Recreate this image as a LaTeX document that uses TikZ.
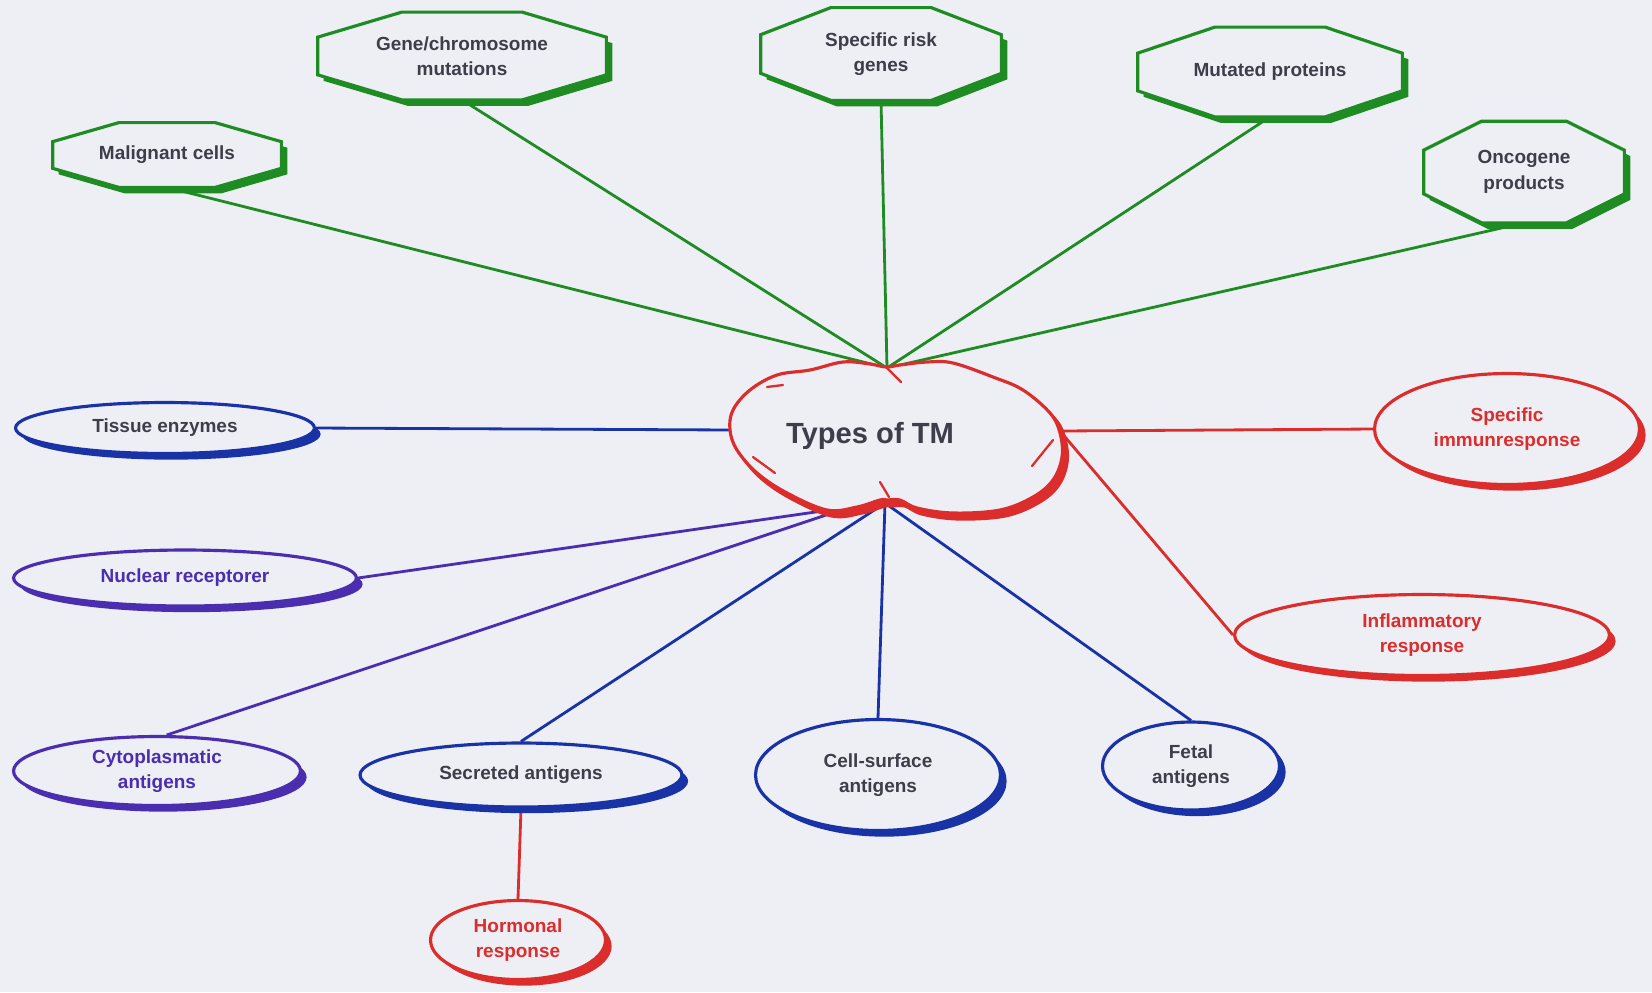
\documentclass[tikz,border=0pt]{standalone}
\usepackage{fontspec}
\setmainfont{Liberation Sans}
\usetikzlibrary{shapes.geometric,shadows,backgrounds,calc}

\definecolor{bgcol}{RGB}{237,239,245}
\definecolor{tmgreen}{RGB}{30,140,35}
\definecolor{tmblue}{RGB}{25,50,165}
\definecolor{tmpurple}{RGB}{75,45,175}
\definecolor{tmred}{RGB}{220,45,45}
\definecolor{txtgray}{RGB}{62,62,74}

\tikzset{
  lbl/.style={font=\bfseries\fontsize{10.8}{14.5}\selectfont, align=center, inner sep=0pt},
  octo/.style={lbl, rectangle, text=txtgray},
  oval/.style={lbl, ellipse, draw=#1, line width=1.8pt, fill=bgcol,
    drop shadow={shadow xshift=3.5pt, shadow yshift=-3.5pt, opacity=1, fill=#1}},
  link/.style={line width=1.6pt}
}

% octagon round a node: name, chamfer x, chamfer y (shadow first)
\newcommand{\octagon}[3]{%
  \fill[tmgreen] ($(#1.north west)+(#2+6,6)$) -- ($(#1.north east)+(-#2+6,6)$)
    -- ($(#1.north east)+(6,#3+6)$) -- ($(#1.south east)+(6,-#3+6)$)
    -- ($(#1.south east)+(-#2+6,6)$) -- ($(#1.south west)+(#2+6,6)$)
    -- ($(#1.south west)+(6,-#3+6)$) -- ($(#1.north west)+(6,#3+6)$) -- cycle;
  \draw[tmgreen, line width=1.8pt, fill=bgcol] ($(#1.north west)+(#2,0)$) -- ($(#1.north east)+(-#2,0)$)
    -- ($(#1.north east)+(0,#3)$) -- ($(#1.south east)+(0,-#3)$)
    -- ($(#1.south east)+(-#2,0)$) -- ($(#1.south west)+(#2,0)$)
    -- ($(#1.south west)+(0,-#3)$) -- ($(#1.north west)+(0,#3)$) -- cycle;
}

\begin{document}
\begin{tikzpicture}[x=0.02cm, y=-0.02cm]
\useasboundingbox (0,0) rectangle (1652,992);
\begin{scope}[on background layer]
\fill[bgcol] (0,0) rectangle (1652,992);
\end{scope}

% green octagons on top
\node[octo, minimum width=4.56cm, minimum height=1.28cm] (mal) at (167,155) {Malignant cells};
\node[octo, minimum width=5.76cm, minimum height=1.74cm] (gene) at (462,56) {Gene/chromosome\\mutations};
\node[octo, minimum width=4.8cm, minimum height=1.84cm] (risk) at (881,54) {Specific risk\\genes};
\node[octo, minimum width=5.28cm, minimum height=1.78cm] (mut) at (1270,72) {Mutated proteins};
\node[octo, minimum width=4cm, minimum height=2.02cm] (onc) at (1524,172) {Oncogene\\products};

% the cloud in the middle
\draw[tmred, fill=tmred, line width=1.8pt, shift={(5,6)}] plot[smooth cycle, tension=0.6] coordinates {
  (886,367) (900,365) (927,362) (953,363) (993,377) (1023,390) (1050,413) (1060,433) (1062,457)
  (1053,480) (1033,497) (1000,510) (953,513) (917,508) (900,500) (887,500) (880,500) (857,507)
  (827,510) (787,493) (757,473) (737,450) (730,430) (733,410) (750,390) (777,375) (810,370)
  (843,362) (870,364)};
\draw[tmred, fill=bgcol, line width=1.8pt] plot[smooth cycle, tension=0.6] coordinates {
  (886,367) (900,365) (927,362) (953,363) (993,377) (1023,390) (1050,413) (1060,433) (1062,457)
  (1053,480) (1033,497) (1000,510) (953,513) (917,508) (900,500) (887,500) (880,500) (857,507)
  (827,510) (787,493) (757,473) (737,450) (730,430) (733,410) (750,390) (777,375) (810,370)
  (843,362) (870,364)};
\draw[tmred, line width=1.3pt, line cap=round] (887,368) -- (901,382);
\draw[tmred, line width=1.3pt, line cap=round] (880,482) -- (889,497);
\draw[tmred, line width=1.3pt, line cap=round] (753,457) -- (775,473);
\draw[tmred, line width=1.3pt, line cap=round] (1053,440) -- (1032,466);
\draw[tmred, line width=1.3pt, line cap=round] (767,387) -- (783,385);
\node[lbl, ellipse, minimum width=5.4cm, minimum height=2.8cm, text=txtgray,
  font=\bfseries\fontsize{16.6}{20}\selectfont] (tm) at (870,436) {Types of TM};
\coordinate (tmN) at (887,368);
\coordinate (tmS) at (885,503);
\coordinate (tmSW) at (850,507);
\coordinate (tmW) at (733,430);
\coordinate (tmE) at (1060,431);

% ovals
\node[oval=tmblue, text=txtgray, minimum width=5.98cm, minimum height=1.02cm] (tis) at (165,428) {Tissue enzymes};
\node[oval=tmpurple, text=tmpurple, minimum width=6.86cm, minimum height=1.12cm] (nuc) at (185,578) {Nuclear receptorer};
\node[oval=tmpurple, text=tmpurple, minimum width=5.74cm, minimum height=1.38cm] (cyt) at (157,771) {Cytoplasmatic\\antigens};
\node[oval=tmblue, text=txtgray, minimum width=6.44cm, minimum height=1.28cm] (sec) at (521,775) {Secreted antigens};
\node[oval=tmred, text=tmred, minimum width=3.5cm, minimum height=1.58cm] (hor) at (518,940) {Hormonal\\response};
\node[oval=tmblue, text=txtgray, minimum width=4.9cm, minimum height=2.22cm] (cel) at (878,775) {Cell-surface\\antigens};
\node[oval=tmblue, text=txtgray, minimum width=3.54cm, minimum height=1.76cm] (fet) at (1191,766) {Fetal\\antigens};
\node[oval=tmred, text=tmred, minimum width=5.3cm, minimum height=2.22cm] (imm) at (1507,429) {Specific\\immunresponse};
\node[oval=tmred, text=tmred, minimum width=7.5cm, minimum height=1.62cm] (inf) at (1422,635) {Inflammatory\\response};

% connectors, then the octagons over them
\begin{scope}[on background layer]
\draw[link, tmgreen] (mal.south) -- (tmN);
\draw[link, tmgreen] (gene.south) -- (tmN);
\draw[link, tmgreen] (risk.south) -- (tmN);
\draw[link, tmgreen] (mut.south) -- (tmN);
\draw[link, tmgreen] (onc.south) -- (tmN);
\draw[link, tmblue] (tis.east) -- (tmW);
\draw[link, tmpurple] (nuc.east) -- (tmSW);
\draw[link, tmpurple] (cyt.75) -- (tmSW);
\draw[link, tmblue] (sec.north) -- (tmS);
\draw[link, tmblue] (cel.north) -- (tmS);
\draw[link, tmblue] (fet.north) -- (tmS);
\draw[link, tmred] (imm.west) -- (tmE);
\draw[link, tmred] (inf.west) -- (tmE);
\draw[link, tmred] (sec.south) -- (hor.north);
\foreach \n/\cx/\cy in {mal/66/19, gene/84/25, risk/70/27, mut/77/26, onc/58/29}
  \octagon{\n}{\cx}{\cy};
\end{scope}
\end{tikzpicture}
\end{document}
